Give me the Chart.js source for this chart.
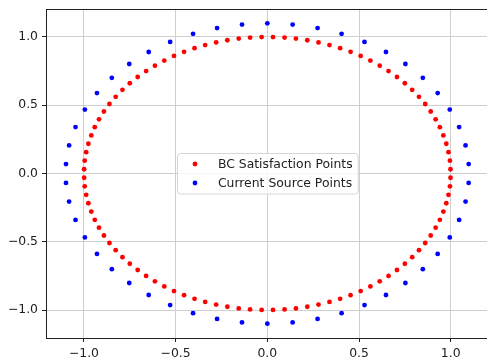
<!DOCTYPE html>
<html>
<head>
<meta charset="utf-8">
<script src="https://cdn.jsdelivr.net/npm/chart.js@4"></script>
<style>
  html, body { margin:0; padding:0; background:#fff; overflow:hidden; }
  canvas { display:block; }
</style>
</head>
<body>
<canvas id="chart" width="487" height="358"></canvas>
<script>
// BC satisfaction points (on the unit circle)
const bcX = [
  0.999, 0.996, 0.988, 0.976, 0.960, 0.941, 0.918, 0.891, 0.861, 0.827, 0.790, 0.750, 0.707,
  0.661, 0.613, 0.562, 0.509, 0.454, 0.397, 0.339, 0.279, 0.218, 0.156, 0.094, 0.031,
  -0.031, -0.094, -0.156, -0.218, -0.279, -0.339, -0.397, -0.454, -0.509, -0.562, -0.613, -0.661, -0.707,
  -0.750, -0.790, -0.827, -0.861, -0.891, -0.918, -0.941, -0.960, -0.976, -0.988, -0.996, -0.999,
  -0.999, -0.996, -0.988, -0.976, -0.960, -0.941, -0.918, -0.891, -0.861, -0.827, -0.790, -0.750, -0.707,
  -0.661, -0.613, -0.562, -0.509, -0.454, -0.397, -0.339, -0.279, -0.218, -0.156, -0.094, -0.031,
  0.031, 0.094, 0.156, 0.218, 0.279, 0.339, 0.397, 0.454, 0.509, 0.562, 0.613, 0.661, 0.707,
  0.750, 0.790, 0.827, 0.861, 0.891, 0.918, 0.941, 0.960, 0.976, 0.988, 0.996, 0.999
];
const bcY = [
  0.031, 0.094, 0.156, 0.218, 0.279, 0.339, 0.397, 0.454, 0.509, 0.562, 0.613, 0.661, 0.707,
  0.750, 0.790, 0.827, 0.861, 0.891, 0.918, 0.941, 0.960, 0.976, 0.988, 0.996, 0.999,
  0.999, 0.996, 0.988, 0.976, 0.960, 0.941, 0.918, 0.891, 0.861, 0.827, 0.790, 0.750, 0.707,
  0.661, 0.613, 0.562, 0.509, 0.454, 0.397, 0.339, 0.279, 0.218, 0.156, 0.094, 0.031,
  -0.031, -0.094, -0.156, -0.218, -0.279, -0.339, -0.397, -0.454, -0.509, -0.562, -0.613, -0.661, -0.707,
  -0.750, -0.790, -0.827, -0.861, -0.891, -0.918, -0.941, -0.960, -0.976, -0.988, -0.996, -0.999,
  -0.999, -0.996, -0.988, -0.976, -0.960, -0.941, -0.918, -0.891, -0.861, -0.827, -0.790, -0.750, -0.707,
  -0.661, -0.613, -0.562, -0.509, -0.454, -0.397, -0.339, -0.279, -0.218, -0.156, -0.094, -0.031
];

// current source points (outer ring, r ~ 1.1)
const srcX = [
  1.098, 1.081, 1.046, 0.995, 0.929, 0.848, 0.753, 0.647, 0.530, 0.405, 0.274, 0.138, 0.000,
  -0.138, -0.274, -0.405, -0.530, -0.647, -0.753, -0.848, -0.929, -0.995, -1.046, -1.081, -1.098,
  -1.098, -1.081, -1.046, -0.995, -0.929, -0.848, -0.753, -0.647, -0.530, -0.405, -0.274, -0.138, 0.000,
  0.138, 0.274, 0.405, 0.530, 0.647, 0.753, 0.848, 0.929, 0.995, 1.046, 1.081, 1.098
];
const srcY = [
  0.069, 0.206, 0.340, 0.468, 0.589, 0.701, 0.802, 0.890, 0.964, 1.023, 1.065, 1.091, 1.100,
  1.091, 1.065, 1.023, 0.964, 0.890, 0.802, 0.701, 0.589, 0.468, 0.340, 0.206, 0.069,
  -0.069, -0.206, -0.340, -0.468, -0.589, -0.701, -0.802, -0.890, -0.964, -1.023, -1.065, -1.091, -1.100,
  -1.091, -1.065, -1.023, -0.964, -0.890, -0.802, -0.701, -0.589, -0.468, -0.340, -0.206, -0.069
];

const seriesLabels = ['BC Satisfaction Points', 'Current Source Points'];
const tickValues   = [-1.0, -0.5, 0.0, 0.5, 1.0];

const FONT = { family:'DejaVu Sans', size:12.4 };
const fmt  = v => (v < 0 ? '\u2212' : '') + Math.abs(v).toFixed(1);

// matplotlib-like legend box in the middle of the axes + top spine
// (the right spine falls just outside the cropped picture)
const mplBox = {
  id: 'mplBox',
  afterDraw(chart) {
    const { ctx, chartArea:a } = chart;
    ctx.save();
    ctx.strokeStyle = '#222';
    ctx.lineWidth = 1;
    ctx.beginPath();
    ctx.moveTo(a.left, a.top + 0.5);
    ctx.lineTo(a.right, a.top + 0.5);
    ctx.stroke();

    ctx.font = `${FONT.size}px "${FONT.family}"`;
    const tw = Math.max(...seriesLabels.map(s => ctx.measureText(s).width));
    const w  = tw + 46;
    const h  = 40.5;
    const cx = chart.scales.x.getPixelForValue(0);
    const cy = chart.scales.y.getPixelForValue(0);
    const x0 = Math.round(cx - w/2) + 0.5, y0 = Math.round(cy - h/2) + 0.5;

    ctx.beginPath();
    ctx.roundRect(x0, y0, w, h, 3);
    ctx.fillStyle = 'rgba(255,255,255,0.8)';
    ctx.fill();
    ctx.strokeStyle = '#d6d6d6';
    ctx.stroke();

    chart.data.datasets.forEach((ds, i) => {
      const ry = y0 + 10.5 + i*19;
      ctx.beginPath();
      ctx.arc(x0 + 17.5, ry, 2.4, 0, Math.PI*2);
      ctx.fillStyle = ds.backgroundColor;
      ctx.fill();
      ctx.fillStyle = '#222';
      ctx.textAlign = 'left';
      ctx.textBaseline = 'middle';
      ctx.fillText(ds.label, x0 + 40.4, ry + 0.5);
    });
    ctx.restore();
  }
};

const axisOpts = (min, max) => ({
  type: 'linear',
  min, max,
  grid:   { color:'#cfcfcf', lineWidth:1, drawTicks:true, tickLength:4, tickColor:'#222', tickWidth:1 },
  border: { color:'#222', width:1 },
  ticks:  { font:FONT, color:'#222', padding:4, callback:fmt },
  afterBuildTicks: s => { s.ticks = tickValues.map(v => ({ value:v })); }
});

new Chart(document.getElementById('chart').getContext('2d'), {
  type: 'scatter',
  data: {
    datasets: [
      { label:seriesLabels[0], data:bcX.map((x,i)=>({ x, y:bcY[i] })),
        backgroundColor:'#ff0000', pointRadius:2.4, pointBorderWidth:0 },
      { label:seriesLabels[1], data:srcX.map((x,i)=>({ x, y:srcY[i] })),
        backgroundColor:'#0000ff', pointRadius:2.4, pointBorderWidth:0 }
    ]
  },
  options: {
    responsive:false,
    animation:false,
    devicePixelRatio:1,
    layout:{ autoPadding:false, padding:{ left:0, top:9, right:0, bottom:0 } },
    plugins:{ legend:{ display:false }, tooltip:{ enabled:false } },
    scales:{
      x: { ...axisOpts(-1.207, 1.198), position:'bottom',
           afterFit: s => { s.height = 20; s.paddingLeft = 0; s.paddingRight = 0; } },
      y: { ...axisOpts(-1.205, 1.205), position:'left',
           afterFit: s => { s.width = 46; s.paddingTop = 0; s.paddingBottom = 0; } }
    }
  },
  plugins:[mplBox]
});
</script>
</body>
</html>
